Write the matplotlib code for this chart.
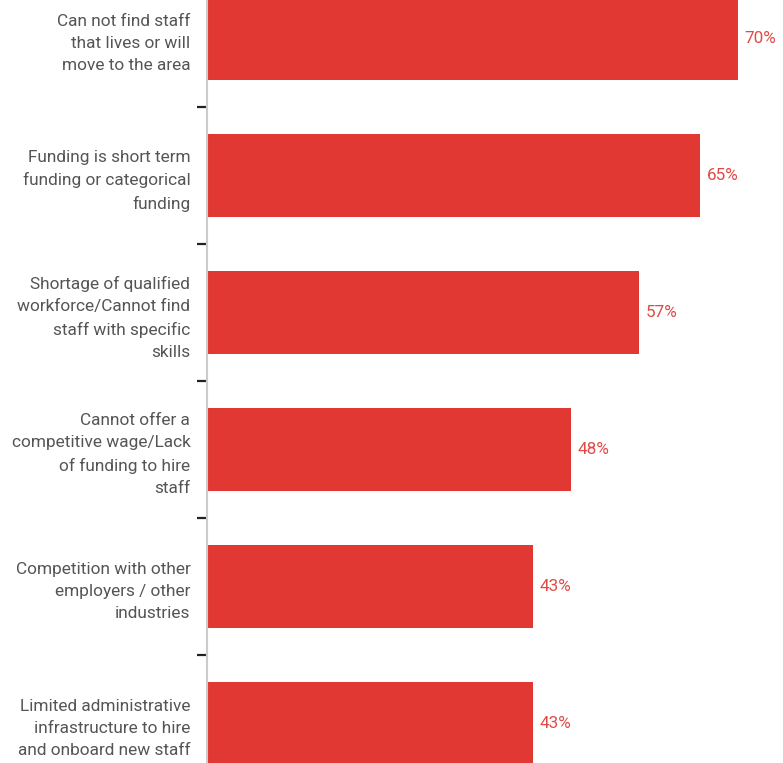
import numpy as np
import matplotlib
matplotlib.use("Agg")
import matplotlib.pyplot as plt

categories = [
    "Can not find staff\nthat lives or will\nmove to the area",
    "Funding is short term\nfunding or categorical\nfunding",
    "Shortage of qualified\nworkforce/Cannot find\nstaff with specific\nskills",
    "Cannot offer a\ncompetitive wage/Lack\nof funding to hire\nstaff",
    "Competition with other\nemployers / other\nindustries",
    "Limited administrative\ninfrastructure to hire\nand onboard new staff",
]
percent = [70, 65, 57, 48, 43, 43]

bar_color = "#e23834"
label_color = "#555555"

plt.rcParams["font.family"] = ["Roboto", "DejaVu Sans"]

fig = plt.figure(figsize=(7.83, 7.63), dpi=100)
ax = fig.add_axes([207 / 783, 0, 1 - 207 / 783, 1])

y = np.arange(len(categories))
bars = ax.barh(y, percent, height=0.606, color=bar_color)

for rect, v in zip(bars, percent):
    ax.annotate(f"{v}%",
                xy=(rect.get_width(), rect.get_y() + rect.get_height() / 2),
                xytext=(5, 0), textcoords="offset points",
                ha="left", va="center", color="#e04a45", fontsize=12.3)

ax.set_xlim(0, 76)
ax.set_ylim(5.288, -0.281)

ax.set_yticks(y)
ax.set_yticklabels(categories, color=label_color, fontsize=12.4, linespacing=1.6)
ax.tick_params(axis="y", which="major", length=0, pad=12)
ax.set_yticks(y[:-1] + 0.5, minor=True)
ax.tick_params(axis="y", which="minor", length=7, width=1.6, color="#222222")
ax.set_xticks([])

for side in ["top", "right", "bottom"]:
    ax.spines[side].set_visible(False)
ax.spines["left"].set_color("#cccccc")
ax.spines["left"].set_linewidth(1.5)

fig.savefig("out.png", dpi=100)
